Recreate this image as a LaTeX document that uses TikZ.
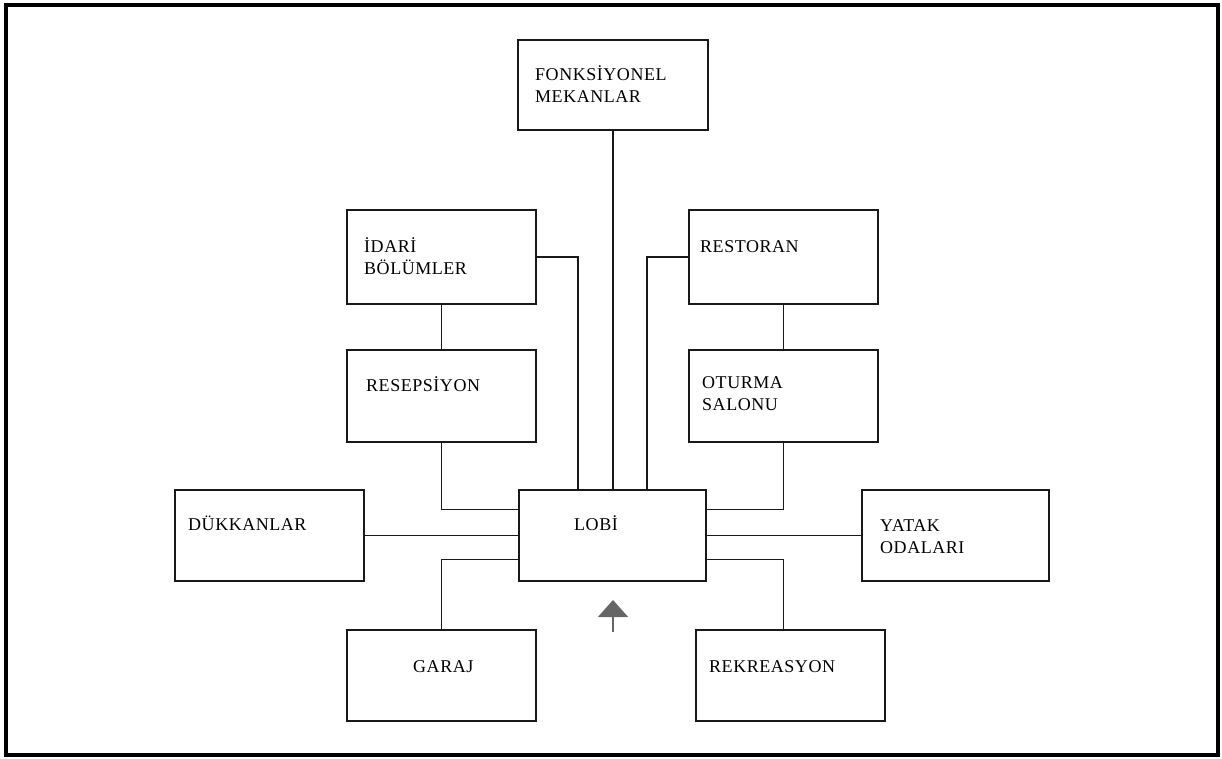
\documentclass[tikz,border=0pt]{standalone}
\usepackage{fontspec}
\setmainfont{Liberation Serif}
\newfontfamily\labfont[LetterSpace=3]{Liberation Serif}
\usetikzlibrary{arrows.meta,calc}
\begin{document}
\begin{tikzpicture}[x=1pt,y=-1pt,
  box/.style={draw=black!90, line width=1.8pt, minimum width=189pt, minimum height=91pt, inner sep=0pt, outer sep=0pt},
  lab/.style={anchor=base west, align=left, inner sep=0pt, font=\labfont\fontsize{18}{22}\selectfont, text=black},
  conn/.style={draw=black!90, line width=1.8pt},
  entry/.style={draw=black!60, line width=1.5pt, -{Triangle[length=17pt,width=30pt]}},
  frame/.style={draw=black, line width=4pt}
  ]
\useasboundingbox (0,0) rectangle (1222,758);
\draw[frame] (5.5,4.5) rectangle (1218,755);

% boxes
\node[box, minimum width=190pt, minimum height=90pt] (fonk) at (613,85) {};
\node[box, minimum height=94pt] (idari)  at (441.5,257) {};
\node[box, minimum height=94pt] (rest)   at (783.5,257) {};
\node[box, minimum height=92pt] (resep)  at (441.5,396) {};
\node[box, minimum height=92pt] (oturma) at (783.5,396) {};
\node[box] (dukk)   at (269.5,535.5) {};
\node[box, minimum width=187pt] (lobi)   at (612.5,535.5) {};
\node[box, minimum width=187pt] (yatak)  at (955.5,535.5) {};
\node[box] (garaj)  at (441.5,675.5) {};
\node[box] (rekr)   at (790.5,675.5) {};

% labels (base anchor = baseline of the last line)
\node[lab] (tfonk)  at (535,102) {FONKSİYONEL\\MEKANLAR};
\node[lab] (tidari) at (364,274) {İDARİ\\BÖLÜMLER};
\node[lab] (trest)  at (700,252) {RESTORAN};
\node[lab] (tresep) at (366,391) {RESEPSİYON};
\node[lab] (totur)  at (702,410) {OTURMA\\SALONU};
\node[lab] (tdukk)  at (188,530) {DÜKKANLAR};
\node[lab] (tlobi)  at (574,530) {LOBİ};
\node[lab] (tyatak) at (880,553) {YATAK\\ODALARI};
\node[lab] (tgaraj) at (413,672) {GARAJ};
\node[lab] (trekr)  at (709,672) {REKREASYON};

% connectors
\draw[conn] (fonk.south) -- (fonk.south |- lobi.north);
\draw[conn] (idari.east) -| ([xshift=59pt]lobi.north west);
\draw[conn] (rest.west) -| ([xshift=-59pt]lobi.north east);
\draw[conn] (idari.south) -- (resep.north);
\draw[conn] (rest.south) -- (oturma.north);
\draw[conn] (resep.south) |- ([yshift=26pt]lobi.west);
\draw[conn] (oturma.south) |- ([yshift=26pt]lobi.east);
\draw[conn] (dukk.east) -- (lobi.west);
\draw[conn] (yatak.west) -- (lobi.east);
\draw[conn] (garaj.north) |- ([yshift=-24pt]lobi.west);
\draw[conn] (oturma.south |- rekr.north) |- ([yshift=-24pt]lobi.east);

% entrance arrow
\coordinate (arrS) at (613,632);
\coordinate (arrT) at (613,600);
\draw[entry] (arrS) -- (arrT);
\end{tikzpicture}
\end{document}
